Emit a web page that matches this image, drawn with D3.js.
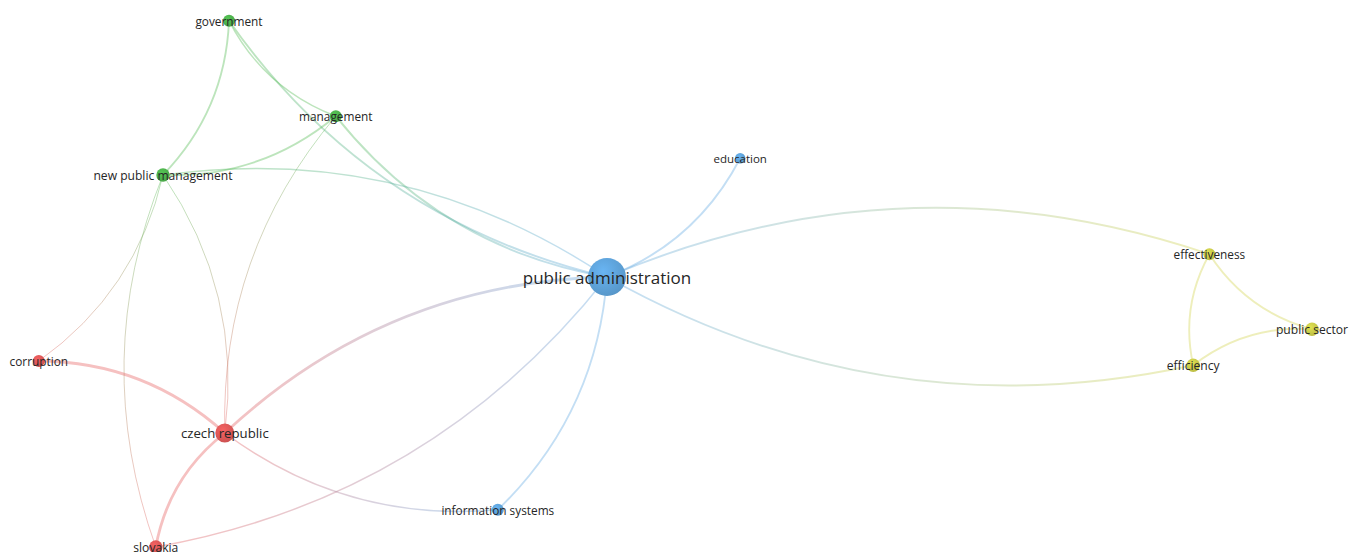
<!DOCTYPE html>
<html>
<head>
<meta charset="utf-8">
<script src="https://cdn.jsdelivr.net/npm/d3@7"></script>
<style>
  html, body { margin: 0; padding: 0; background: #fff; overflow: hidden; }
  svg { display: block; }
</style>
</head>
<body>
<svg width="1349" height="552"></svg>
<script>
// keyword co-occurrence map (map coordinates, cluster, occurrences)
const terms    = ["public administration", "government", "management", "new public management",
                  "education", "effectiveness", "public sector", "efficiency",
                  "corruption", "czech republic", "information systems", "slovakia"];
const mapX     = [0, -0.630, -0.452, -0.740, 0.222, 1.004, 1.175, 0.977, -0.947, -0.637, -0.182, -0.752];
const mapY     = [0, -0.427, -0.268, -0.170, -0.198, -0.038, 0.087, 0.147, 0.140, 0.260, 0.388, 0.450];
const clusters = [3, 2, 2, 2, 3, 4, 4, 4, 1, 1, 3, 1];
const weights  = [40, 4, 4, 5, 3, 4, 5, 5, 4, 10, 4, 5];

// links: source, target, strength
const links = [
  ["effectiveness", "public administration", 2],
  ["public administration", "efficiency", 2],
  ["public administration", "czech republic", 3],
  ["slovakia", "public administration", 1.5],
  ["information systems", "public administration", 2],
  ["czech republic", "information systems", 1.5],
  ["public administration", "education", 2],
  ["government", "public administration", 2],
  ["management", "public administration", 2],
  ["public administration", "new public management", 1.5],
  ["new public management", "government", 2],
  ["government", "management", 1.5],
  ["new public management", "management", 2],
  ["management", "czech republic", 1],
  ["czech republic", "new public management", 1],
  ["corruption", "new public management", 1],
  ["new public management", "slovakia", 1],
  ["czech republic", "corruption", 3],
  ["czech republic", "slovakia", 3],
  ["effectiveness", "efficiency", 2],
  ["effectiveness", "public sector", 2],
  ["public sector", "efficiency", 2]
];

const clusterColors = {1: "#e65b5b", 2: "#50b94f", 3: "#62a9e2", 4: "#d2d34c"};

const svg = d3.select("svg");

const x = d3.scaleLinear().domain([-1, 1]).range([7, 1207]);
const y = d3.scaleLinear().domain([-1, 1]).range([-323, 877]);
const rScale = d3.scaleSqrt().domain([3, 40]).range([5.2, 19]);
const fScale = d3.scaleSqrt().domain([3, 40]).range([11.5, 17]);
const wScale = d3.scaleLinear().domain([1, 3]).range([1, 2.8]);

const nodes = terms.map((t, i) => ({
  id: t, x: x(mapX[i]), y: y(mapY[i]), cluster: clusters[i], w: weights[i]
}));
const byId = new Map(nodes.map(d => [d.id, d]));

const defs = svg.append("defs");

// node shading
Object.entries(clusterColors).forEach(([k, c]) => {
  const g = defs.append("radialGradient").attr("id", "node" + k)
    .attr("cx", "40%").attr("cy", "35%").attr("r", "70%");
  g.append("stop").attr("offset", "0%").attr("stop-color", d3.color(c).brighter(0.2));
  g.append("stop").attr("offset", "100%").attr("stop-color", d3.color(c).darker(0.35));
});

const linkData = links.map((l, i) => ({s: byId.get(l[0]), t: byId.get(l[1]), w: l[2], i: i}));

linkData.forEach(d => {
  const g = defs.append("linearGradient").attr("id", "lg" + d.i)
    .attr("gradientUnits", "userSpaceOnUse")
    .attr("x1", d.s.x).attr("y1", d.s.y).attr("x2", d.t.x).attr("y2", d.t.y);
  g.append("stop").attr("offset", "0%").attr("stop-color", clusterColors[d.s.cluster]);
  g.append("stop").attr("offset", "100%").attr("stop-color", clusterColors[d.t.cluster]);
});

// bent edges, always bending the same way from source to target
function curve(d) {
  const dx = d.t.x - d.s.x, dy = d.t.y - d.s.y;
  const mx = (d.s.x + d.t.x) / 2, my = (d.s.y + d.t.y) / 2;
  const k = 0.19;
  const p = d3.path();
  p.moveTo(d.s.x, d.s.y);
  p.quadraticCurveTo(mx - dy * k, my + dx * k, d.t.x, d.t.y);
  return p.toString();
}

svg.append("g").selectAll("path").data(linkData).enter().append("path")
  .attr("d", curve)
  .attr("fill", "none")
  .attr("stroke", d => `url(#lg${d.i})`)
  .attr("stroke-opacity", 0.38)
  .attr("stroke-width", d => wScale(d.w));

svg.append("g").selectAll("circle").data(nodes).enter().append("circle")
  .attr("cx", d => d.x)
  .attr("cy", d => d.y)
  .attr("r", d => rScale(d.w))
  .attr("fill", d => `url(#node${d.cluster})`);

svg.append("g").selectAll("text").data(nodes).enter().append("text")
  .attr("x", d => d.x)
  .attr("y", d => d.y)
  .attr("text-anchor", "middle")
  .attr("dominant-baseline", "central")
  .attr("font-family", "'Open Sans', sans-serif")
  .attr("font-size", d => fScale(d.w) + "px")
  .attr("fill", "#262626")
  .text(d => d.id);
</script>
</body>
</html>
